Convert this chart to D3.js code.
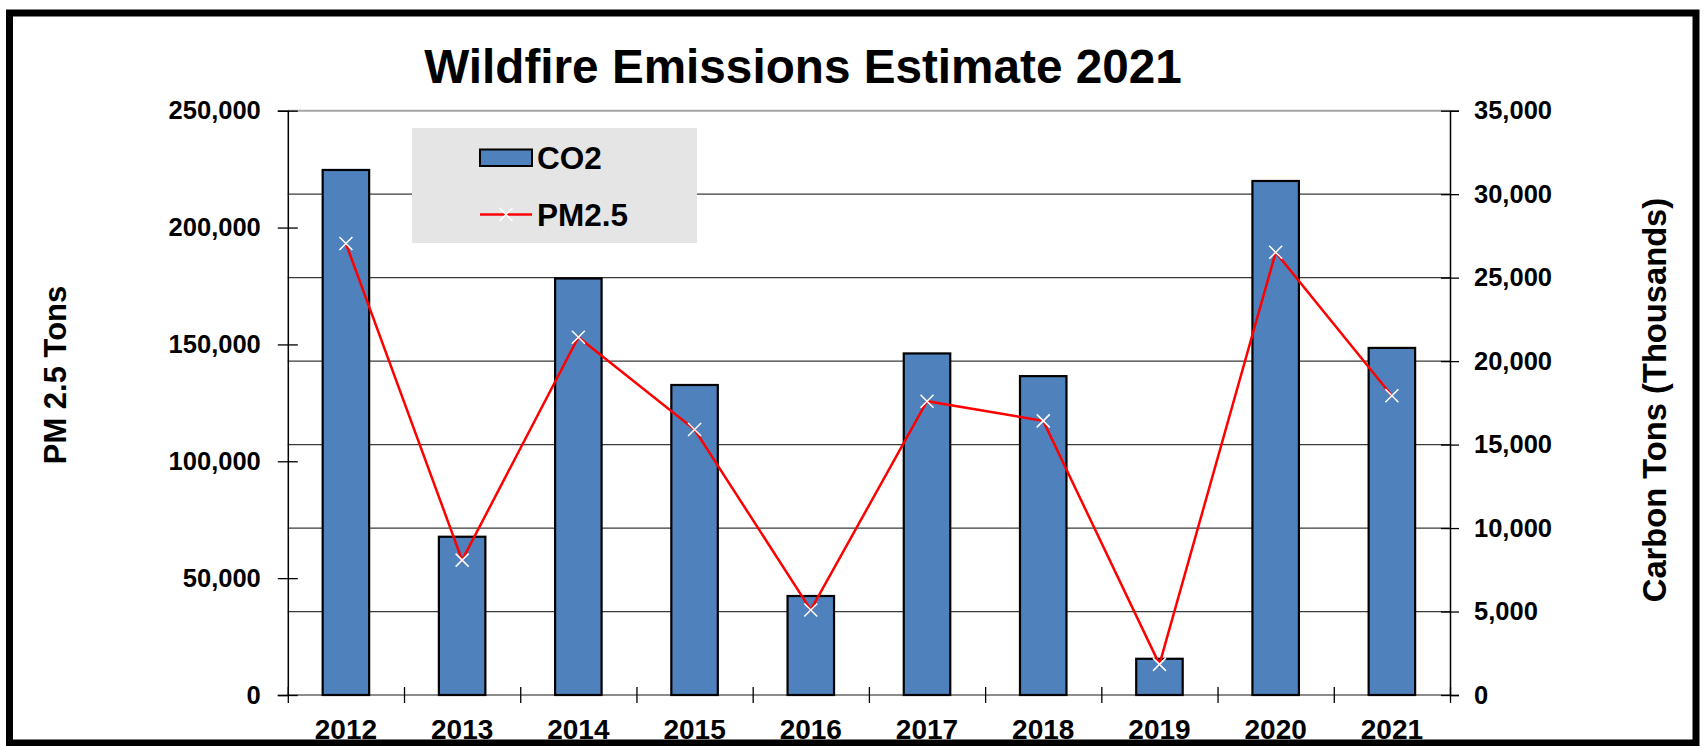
<!DOCTYPE html>
<html>
<head>
<meta charset="utf-8">
<script src="https://cdn.jsdelivr.net/npm/d3@7"></script>
<style>
  html, body { margin: 0; padding: 0; background: #fff; }
  svg { display: block; }
  text { font-family: "Liberation Sans", Arial, sans-serif; font-weight: bold; fill: #000; }
</style>
</head>
<body>
<svg id="chart" width="1705" height="746"></svg>
<script>
const years = ["2012","2013","2014","2015","2016","2017","2018","2019","2020","2021"];
const co2 = [31450, 9480, 24950, 18570, 5930, 20460, 19100, 2170, 30790, 20790];
const pm25 = [193200, 57700, 153100, 113600, 36400, 125700, 117300, 13100, 189400, 128000];
const leftTicks = [0, 50000, 100000, 150000, 200000, 250000];
const rightTicks = [0, 5000, 10000, 15000, 20000, 25000, 30000, 35000];
const title = "Wildfire Emissions Estimate 2021";
const leftTitle = "PM 2.5 Tons";
const rightTitle = "Carbon Tons (Thousands)";
const seriesNames = ["CO2", "PM2.5"];

const svg = d3.select("#chart");
const L = 287.8, R = 1450, T = 110.7, B = 695;

const x = d3.scaleBand().domain(years).range([L, R]).paddingInner(0.6).paddingOuter(0.3);
const xEdge = d3.scaleLinear().domain([0, years.length]).range([L, R]);
const yL = d3.scaleLinear().domain([0, 250000]).range([B, T]);
const yR = d3.scaleLinear().domain([0, 35000]).range([B, T]);
const fmt = d3.format(",");

// outer frame
svg.append("rect").attr("x", 9.5).attr("y", 13).attr("width", 1686.5).attr("height", 730)
  .attr("fill", "none").attr("stroke", "#000").attr("stroke-width", 7);

// gridlines (from right axis)
svg.append("g").selectAll("line").data(rightTicks.filter(d => d > 0 && d < 35000)).join("line")
  .attr("x1", L).attr("x2", R).attr("y1", d => yR(d)).attr("y2", d => yR(d))
  .attr("stroke", "#3a3a3a").attr("stroke-width", 1.2);
svg.append("line").attr("x1", L).attr("x2", R).attr("y1", yR(35000)).attr("y2", yR(35000))
  .attr("stroke", "#a6a6a6").attr("stroke-width", 2);
svg.append("line").attr("x1", L).attr("x2", R).attr("y1", yR(0)).attr("y2", yR(0))
  .attr("stroke", "#8c8c8c").attr("stroke-width", 2);

// bars
svg.append("g").selectAll("rect").data(years).join("rect")
  .attr("x", d => x(d)).attr("width", x.bandwidth())
  .attr("y", (d, i) => yR(co2[i])).attr("height", (d, i) => B - yR(co2[i]))
  .attr("fill", "#4f81bd").attr("stroke", "#000").attr("stroke-width", 2.2);

// left axis
const gL = svg.append("g").attr("transform", `translate(${L},0)`)
  .call(d3.axisLeft(yL).tickValues(leftTicks).tickFormat(fmt).tickSize(10).tickPadding(17));
gL.select(".domain").attr("stroke", "#000").attr("stroke-width", 1.5);
gL.selectAll(".tick line").attr("x1", 10).attr("stroke", "#000").attr("stroke-width", 1.3);
gL.selectAll("text").attr("font-size", 25.5).attr("font-family", "Liberation Sans, Arial, sans-serif").attr("font-weight", "bold");

// right axis
const gR = svg.append("g").attr("transform", `translate(${R},0)`)
  .call(d3.axisRight(yR).tickValues(rightTicks).tickFormat(fmt).tickSize(9).tickPadding(15));
gR.select(".domain").attr("stroke", "#000").attr("stroke-width", 1.5);
gR.selectAll(".tick line").attr("x1", -9).attr("stroke", "#000").attr("stroke-width", 1.3);
gR.selectAll("text").attr("font-size", 25.5).attr("font-family", "Liberation Sans, Arial, sans-serif").attr("font-weight", "bold");

// bottom axis: ticks at category edges
const gE = svg.append("g").attr("transform", `translate(0,${B})`)
  .call(d3.axisBottom(xEdge).tickValues(d3.range(years.length + 1)).tickFormat("").tickSize(8));
gE.select(".domain").remove();
gE.selectAll(".tick line").attr("y1", -8).attr("stroke", "#000").attr("stroke-width", 1.3);

const gX = svg.append("g").attr("transform", `translate(0,${B})`)
  .call(d3.axisBottom(x).tickSize(0).tickPadding(24));
gX.select(".domain").remove();
gX.selectAll("text").attr("font-size", 28).attr("font-family", "Liberation Sans, Arial, sans-serif").attr("font-weight", "bold");

// PM2.5 line
const line = d3.line().x((d, i) => x(years[i]) + x.bandwidth() / 2).y(d => yL(d));
svg.append("path").datum(pm25).attr("d", line)
  .attr("fill", "none").attr("stroke", "#ff0000").attr("stroke-width", 2.5);

// X markers
const mk = 6.5;
const mg = svg.append("g").selectAll("g").data(pm25).join("g")
  .attr("transform", (d, i) => `translate(${x(years[i]) + x.bandwidth() / 2},${yL(d)})`);
mg.append("path").attr("d", `M${-mk},${-mk}L${mk},${mk}M${-mk},${mk}L${mk},${-mk}`)
  .attr("stroke", "#fff").attr("stroke-width", 1.5).attr("fill", "none");

// title
svg.append("text").attr("x", 803).attr("y", 83).attr("text-anchor", "middle")
  .attr("font-size", 47.7).text(title);

// axis titles
svg.append("text").attr("transform", "translate(66,375) rotate(-90)")
  .attr("text-anchor", "middle").attr("font-size", 31).text(leftTitle);
svg.append("text").attr("transform", "translate(1666,400) rotate(-90)")
  .attr("text-anchor", "middle").attr("font-size", 32.7).text(rightTitle);

// legend
const lg = svg.append("g");
lg.append("rect").attr("x", 412).attr("y", 128).attr("width", 285).attr("height", 115).attr("fill", "#e5e5e5");
lg.append("rect").attr("x", 480).attr("y", 149.5).attr("width", 52).attr("height", 16.5)
  .attr("fill", "#4f81bd").attr("stroke", "#000").attr("stroke-width", 2);
lg.append("text").attr("x", 537).attr("y", 168.5).attr("font-size", 31.5).text(seriesNames[0]);
lg.append("line").attr("x1", 480).attr("x2", 532).attr("y1", 214.5).attr("y2", 214.5)
  .attr("stroke", "#ff0000").attr("stroke-width", 2.5);
lg.append("path").attr("transform", "translate(506,214.5)")
  .attr("d", `M${-mk},${-mk}L${mk},${mk}M${-mk},${mk}L${mk},${-mk}`)
  .attr("stroke", "#fff").attr("stroke-width", 1.5);
lg.append("text").attr("x", 537).attr("y", 225.5).attr("font-size", 31.5).text(seriesNames[1]);
</script>
</body>
</html>
